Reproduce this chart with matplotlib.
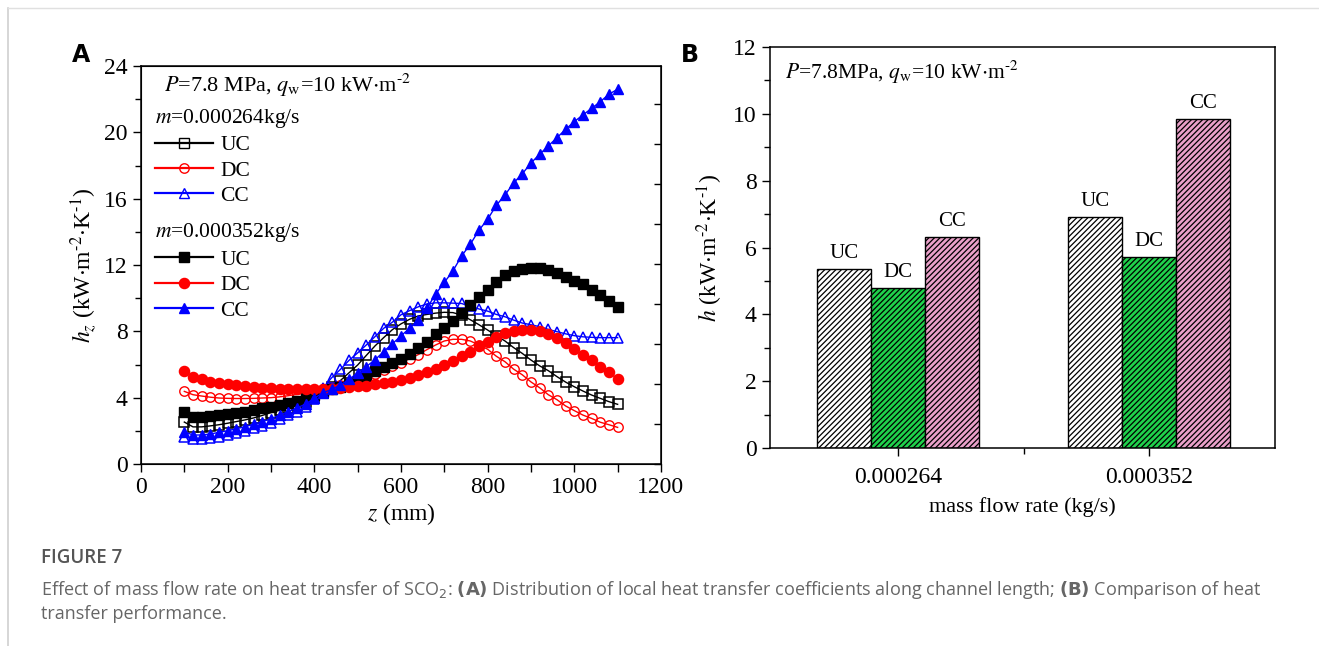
import numpy as np
import matplotlib
matplotlib.use("Agg")
import matplotlib.pyplot as plt
from matplotlib.lines import Line2D

plt.rcParams['font.family'] = ['Liberation Serif', 'DejaVu Serif']
plt.rcParams['mathtext.fontset'] = 'stix'
plt.rcParams['hatch.linewidth'] = 0.9
plt.rcParams['hatch.color'] = 'black'

# ---- panel A data: local heat transfer coefficient along the channel ----
z = [100, 120, 140, 160, 180, 200, 220, 240, 260, 280,
     300, 320, 340, 360, 380, 400, 420, 440, 460, 480,
     500, 520, 540, 560, 580, 600, 620, 640, 660, 680,
     700, 720, 740, 760, 780, 800, 820, 840, 860, 880,
     900, 920, 940, 960, 980, 1000, 1020, 1040, 1060, 1080, 1100]

# m = 0.000264 kg/s
uc1 = [2.53, 2.24, 2.24, 2.30, 2.37, 2.46, 2.56, 2.66, 2.78, 2.93,
       3.10, 3.25, 3.40, 3.56, 3.72, 3.98, 4.30, 4.65, 5.03, 5.50,
       5.97, 6.55, 7.12, 7.62, 8.10, 8.45, 8.73, 8.93, 9.02, 9.10,
       9.15, 9.13, 8.98, 8.70, 8.40, 8.08, 7.74, 7.42, 7.02, 6.67,
       6.27, 5.92, 5.63, 5.27, 4.94, 4.66, 4.40, 4.16, 3.96, 3.76, 3.60]
dc1 = [4.38, 4.18, 4.10, 4.03, 3.98, 3.96, 3.95, 3.95, 3.96, 3.98,
       4.00, 4.05, 4.12, 4.20, 4.30, 4.40, 4.50, 4.62, 4.75, 4.90,
       5.05, 5.22, 5.42, 5.65, 5.90, 6.10, 6.35, 6.60, 6.90, 7.18,
       7.42, 7.52, 7.52, 7.42, 7.18, 6.92, 6.50, 6.17, 5.72, 5.38,
       4.95, 4.60, 4.18, 3.88, 3.50, 3.22, 2.95, 2.75, 2.52, 2.37, 2.21]
cc1 = [1.65, 1.49, 1.49, 1.55, 1.61, 1.75, 1.85, 2.01, 2.15, 2.29,
       2.49, 2.69, 2.96, 3.16, 3.42, 3.95, 4.60, 5.20, 5.70, 6.25,
       6.70, 7.18, 7.68, 8.18, 8.55, 9.00, 9.25, 9.48, 9.65, 9.72,
       9.72, 9.70, 9.68, 9.50, 9.35, 9.22, 9.02, 8.88, 8.68, 8.50,
       8.40, 8.28, 8.12, 7.98, 7.85, 7.74, 7.67, 7.64, 7.62, 7.62, 7.62]

# m = 0.000352 kg/s
uc2 = [3.12, 2.81, 2.81, 2.88, 2.94, 3.00, 3.08, 3.15, 3.25, 3.35,
       3.45, 3.56, 3.66, 3.80, 3.96, 4.14, 4.33, 4.50, 4.66, 4.84,
       5.02, 5.30, 5.60, 5.85, 6.10, 6.35, 6.62, 6.98, 7.38, 7.82,
       8.20, 8.64, 9.12, 9.60, 10.08, 10.50, 10.95, 11.38, 11.64, 11.75,
       11.80, 11.80, 11.70, 11.52, 11.28, 11.06, 10.85, 10.52, 10.20, 9.82, 9.45]
dc2 = [5.61, 5.27, 5.10, 4.97, 4.87, 4.80, 4.74, 4.68, 4.63, 4.58,
       4.56, 4.53, 4.52, 4.50, 4.50, 4.50, 4.52, 4.55, 4.60, 4.64,
       4.68, 4.73, 4.80, 4.88, 4.96, 5.06, 5.20, 5.36, 5.55, 5.74,
       5.95, 6.22, 6.50, 6.78, 7.10, 7.36, 7.66, 7.88, 8.03, 8.08,
       8.08, 8.03, 7.85, 7.62, 7.28, 6.96, 6.56, 6.25, 5.84, 5.52, 5.14]
cc2 = [1.95, 1.75, 1.75, 1.81, 1.91, 2.01, 2.13, 2.25, 2.40, 2.55,
       2.74, 2.95, 3.16, 3.38, 3.62, 3.96, 4.30, 4.50, 4.76, 5.10,
       5.50, 5.88, 6.28, 6.78, 7.25, 7.72, 8.20, 8.68, 9.40, 10.25,
       10.95, 11.65, 12.55, 13.25, 14.10, 14.76, 15.60, 16.22, 16.95, 17.50,
       18.15, 18.68, 19.18, 19.68, 20.18, 20.65, 21.05, 21.45, 21.85, 22.30, 22.60]

# ---- panel B data: averaged heat transfer coefficient ----
flow_labels = ['0.000264', '0.000352']
bar_names = ['UC', 'DC', 'CC']
h_uc = [5.35, 6.90]
h_dc = [4.80, 5.72]
h_cc = [6.30, 9.85]

unit = r'(kW$\cdot$m$^{‐2}$$\cdot$K$^{‐1}$)'

fig = plt.figure(figsize=(13.19, 6.46), dpi=100)

# thin page borders like the journal layout
fig.add_artist(Line2D([0.006, 0.006], [0.0, 0.988], color='#d0d0d0', lw=1.2))
fig.add_artist(Line2D([0.006, 1.0], [0.988, 0.988], color='#e0e0e0', lw=1.0))

# ======================= panel A =======================
ax = fig.add_axes([0.1069, 0.2817, 0.3942, 0.6161])
ms = 6.8
ax.plot(z, uc1, color='black', marker='s', mfc='none', ms=ms, lw=1, mew=1.1)
ax.plot(z, dc1, color='red', marker='o', mfc='none', ms=ms, lw=1, mew=1.0)
ax.plot(z, cc1, color='blue', marker='^', mfc='none', ms=ms + 1, lw=1, mew=1.1)
ax.plot(z, uc2, color='black', marker='s', ms=ms, lw=1)
ax.plot(z, dc2, color='red', marker='o', ms=ms + 0.5, lw=1)
ax.plot(z, cc2, color='blue', marker='^', ms=ms + 1, lw=1)

ax.set_xlim(0, 1200)
ax.set_ylim(0, 24)
ax.set_xticks(range(0, 1201, 200))
ax.set_xticks(range(100, 1200, 200), minor=True)
ax.set_yticks(range(0, 25, 4))
ax.set_yticks(range(2, 24, 4), minor=True)
ax.tick_params(which='both', direction='out', labelsize=17, right=False, top=False)
ax.tick_params(which='major', length=6, width=1)
ax.tick_params(which='minor', length=4, width=1)
ax.tick_params(axis='x', which='minor', length=6)
for s in ax.spines.values():
    s.set_linewidth(1.1)
ax.set_xlabel('$z$ (mm)', fontsize=17, labelpad=2)
ax.set_ylabel('$h_z$ ' + unit, fontsize=17, labelpad=4)

# right axis carries its own inward ticks
ax2 = ax.twinx()
ax2.set_ylim(0, 9.95)
ax2.set_yticks(range(0, 10))
ax2.tick_params(direction='in', length=5, width=1, labelright=False)

ax.text(0.045, 0.985, r'$P$=7.8 MPa, $q_{\rm w}$=10 kW$\cdot$m$^{‐2}$',
        transform=ax.transAxes, fontsize=16, va='top', ha='left')

h_open = [Line2D([], [], color='black', marker='s', mfc='none', ms=ms, lw=1.6),
          Line2D([], [], color='red', marker='o', mfc='none', ms=ms, lw=1.6),
          Line2D([], [], color='blue', marker='^', mfc='none', ms=ms + 1, lw=1.6)]
h_fill = [Line2D([], [], color='black', marker='s', ms=ms, lw=1.6),
          Line2D([], [], color='red', marker='o', ms=ms + 0.5, lw=1.6),
          Line2D([], [], color='blue', marker='^', ms=ms + 1, lw=1.6)]
leg_kw = dict(loc='upper left', frameon=False, fontsize=15.5, title_fontsize=15.5,
              alignment='left', handlelength=2.7, handletextpad=0.35,
              labelspacing=0.25, borderaxespad=0.2, borderpad=0.3)
leg1 = ax.legend(h_open, bar_names, title='$m$=0.000264kg/s',
                 bbox_to_anchor=(0.006, 0.925), **leg_kw)
ax.add_artist(leg1)
ax.legend(h_fill, bar_names, title='$m$=0.000352kg/s',
          bbox_to_anchor=(0.006, 0.637), **leg_kw)

fig.text(0.0545, 0.915, 'A', fontsize=17, fontweight='bold', family='DejaVu Sans',
         ha='left', va='center')

# ======================= panel B =======================
bx = fig.add_axes([0.5838, 0.3065, 0.3828, 0.6207])
xpos = np.arange(len(flow_labels))
w = 0.215
colors = ['white', '#1fd14b', '#eaa0c9']
for k, (vals, col, name) in enumerate(zip([h_uc, h_dc, h_cc], colors, bar_names)):
    xs = xpos + (k - 1) * w
    bx.bar(xs, vals, width=w, color=col, edgecolor='black', linewidth=1, hatch='//////')
    for xi, v in zip(xs, vals):
        bx.text(xi, v + 0.18, name, ha='center', va='bottom', fontsize=15)

bx.set_xlim(-0.51, 1.5)
bx.set_ylim(0, 12)
bx.set_xticks(xpos)
bx.set_xticklabels(flow_labels)
bx.set_xticks([0.5], minor=True)
bx.set_yticks(range(0, 13, 2))
bx.set_yticks(range(1, 12, 2), minor=True)
bx.tick_params(which='both', direction='out', labelsize=17, right=False, top=False)
bx.tick_params(which='major', length=6, width=1)
bx.tick_params(which='minor', length=4, width=1)
bx.tick_params(axis='x', which='major', pad=8)
for s in bx.spines.values():
    s.set_linewidth(1.1)
bx.set_xlabel('mass flow rate (kg/s)', fontsize=16, labelpad=6)
bx.set_ylabel('$h$ ' + unit, fontsize=17, labelpad=6)
bx.text(0.03, 0.97, r'$P$=7.8MPa, $q_{\rm w}$=10 kW$\cdot$m$^{‐2}$',
        transform=bx.transAxes, fontsize=15.5, va='top', ha='left')

fig.text(0.516, 0.915, 'B', fontsize=17, fontweight='bold', family='DejaVu Sans',
         ha='left', va='center')

# ======================= caption =======================
fig.text(0.031, 0.136, 'FIGURE 7', fontsize=13.5, family='Open Sans', color='#555555',
         fontweight='semibold', va='center')
fig.text(0.031, 0.087,
         r'Effect of mass flow rate on heat transfer of SCO$_2$: $\mathbf{(A)}$ Distribution of '
         r'local heat transfer coefficients along channel length; $\mathbf{(B)}$ Comparison of heat',
         fontsize=13, family='Open Sans', color='#666666', va='center',
         math_fontfamily='dejavusans')
fig.text(0.031, 0.049, 'transfer performance.', fontsize=13, family='Open Sans',
         color='#666666', va='center')

fig.savefig('out.png', dpi=100)
